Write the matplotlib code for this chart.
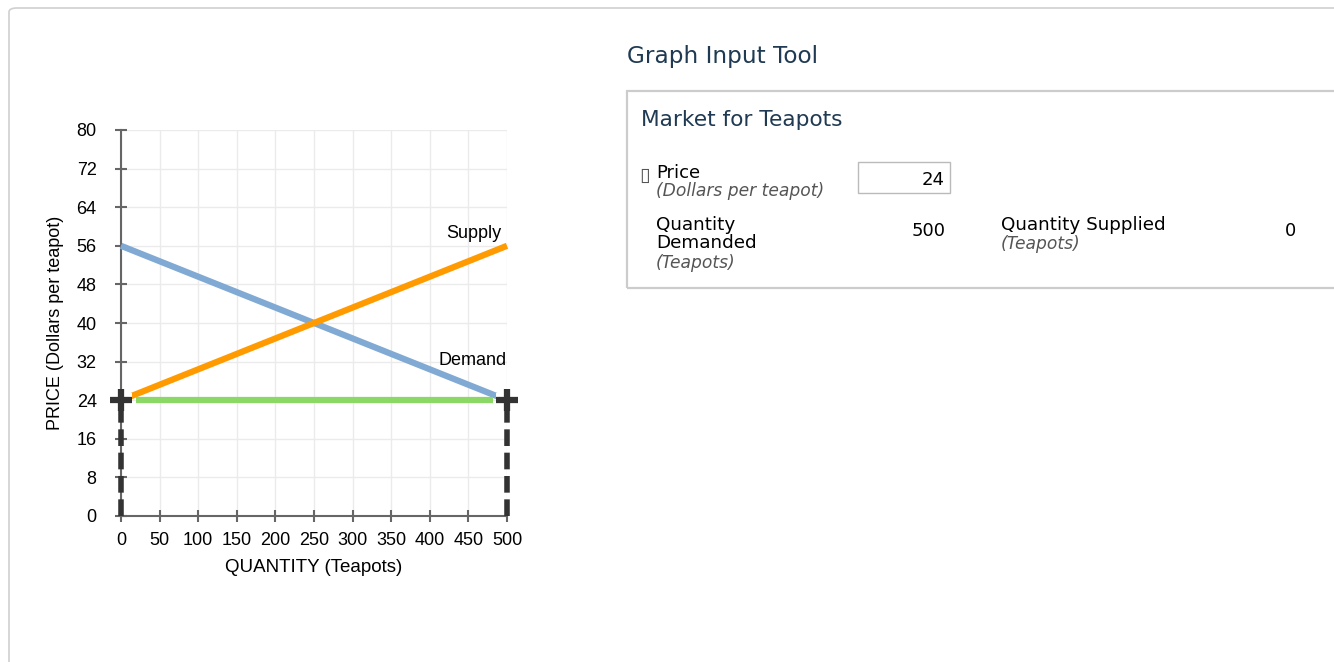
import matplotlib.pyplot as plt
import matplotlib.patheffects as pe
from matplotlib.patches import Rectangle, FancyBboxPatch

# data
quantity = [0, 500]
supply_price = [24, 56]
demand_price = [56, 24]
price_line_q = [20, 482]
price_line_p = [24, 24]
cross_q = [0, 500]
cross_p = [24, 24]
drop_top = 22
x_ticks = list(range(0, 501, 50))
y_ticks = list(range(0, 81, 8))

W, H = 1334, 662
fig = plt.figure(figsize=(W / 100, H / 100), dpi=100)


def fx(px):
    return px / W


def fy(py):
    return 1 - py / H


# outer frame of the page
fig.patches.append(FancyBboxPatch((fx(9), fy(700)), fx(1400), fy(8) - fy(700),
                                  boxstyle="round,pad=0,rounding_size=0.006",
                                  transform=fig.transFigure, fill=False,
                                  ec="#d0d0d0", lw=1.2))

ax = fig.add_axes([fx(121), fy(516), fx(507) - fx(121), fy(130) - fy(516)])
ax.set_xlim(0, 500)
ax.set_ylim(0, 80)
ax.set_xticks(x_ticks)
ax.set_yticks(y_ticks)
ax.grid(True, color="#ebebeb", lw=1)
ax.set_axisbelow(True)
for s in ["top", "right"]:
    ax.spines[s].set_visible(False)
for s in ["left", "bottom"]:
    ax.spines[s].set_color("#666666")
    ax.spines[s].set_linewidth(1.5)
ax.tick_params(direction="inout", length=9, width=1.5, color="#666666",
               labelsize=13, pad=7)
ax.tick_params(axis="y", pad=13)
for lab in ax.get_xticklabels() + ax.get_yticklabels():
    lab.set_family("Liberation Sans")

ax.plot(quantity, demand_price, color="#80a9d4", lw=4.5, solid_capstyle="butt",
        clip_on=False, zorder=3)
ax.plot(quantity, supply_price, color="#ff9a00", lw=4.5, solid_capstyle="butt",
        clip_on=False, zorder=3)
ax.plot(price_line_q, price_line_p, color="#8cd866", lw=4.5, solid_capstyle="butt",
        zorder=4)
for q in cross_q:
    ax.plot([q, q], [0, drop_top], color="#333333", lw=4, ls=(0, (3, 1.2)),
            clip_on=False, zorder=5)
ax.plot(cross_q, cross_p, ls="none", marker="+", ms=16, mew=4.5, color="#333333",
        clip_on=False, zorder=6,
        path_effects=[pe.Stroke(linewidth=10, foreground="white"), pe.Normal()])

ax.text(493, 58.6, "Supply", ha="right", va="center", fontsize=13,
        family="Liberation Sans")
ax.text(500, 32.2, "Demand", ha="right", va="center", fontsize=13,
        family="Liberation Sans")
ax.set_xlabel("QUANTITY (Teapots)", fontsize=13.5, family="Liberation Sans", labelpad=7)
ax.set_ylabel("PRICE (Dollars per teapot)", fontsize=13, family="Liberation Sans",
              labelpad=9)

# right-side input panel
title_c = "#1f3a52"
fig.text(fx(627), fy(57), "Graph Input Tool", fontsize=16.7, color=title_c,
         va="center", family="DejaVu Sans")
fig.patches.append(Rectangle((fx(627), fy(288)), fx(800), fy(91) - fy(288),
                             transform=fig.transFigure, fill=False,
                             ec="#cccccc", lw=1.6))
fig.text(fx(641), fy(120), "Market for Teapots", fontsize=15.6, color=title_c,
         va="center", family="DejaVu Sans")
fig.text(fx(639), fy(175), "\u25af", fontsize=14, color="#555555", va="center",
         family="DejaVu Sans")
fig.text(fx(656), fy(173), "Price", fontsize=13, va="center", family="DejaVu Sans")
fig.text(fx(656), fy(191), "(Dollars per teapot)", fontsize=12.3, va="center",
         style="italic", color="#555555", family="DejaVu Sans")
fig.patches.append(Rectangle((fx(858), fy(193)), fx(92), fy(162) - fy(193),
                             transform=fig.transFigure, fill=False,
                             ec="#bbbbbb", lw=1))
fig.text(fx(945), fy(180), "24", fontsize=13, va="center", ha="right",
         family="DejaVu Sans")
fig.text(fx(656), fy(225), "Quantity", fontsize=13.2, va="center", family="DejaVu Sans")
fig.text(fx(656), fy(243), "Demanded", fontsize=13.2, va="center", family="DejaVu Sans")
fig.text(fx(656), fy(263), "(Teapots)", fontsize=12.3, va="center", style="italic",
         color="#555555", family="DejaVu Sans")
fig.text(fx(946), fy(231), "500", fontsize=13, va="center", ha="right",
         family="DejaVu Sans")
fig.text(fx(1001), fy(225), "Quantity Supplied", fontsize=13.2, va="center",
         family="DejaVu Sans")
fig.text(fx(1001), fy(244), "(Teapots)", fontsize=12.3, va="center", style="italic",
         color="#555555", family="DejaVu Sans")
fig.text(fx(1290), fy(231), "0", fontsize=13, va="center", ha="center",
         family="DejaVu Sans")

fig.savefig("out.png", dpi=100)
